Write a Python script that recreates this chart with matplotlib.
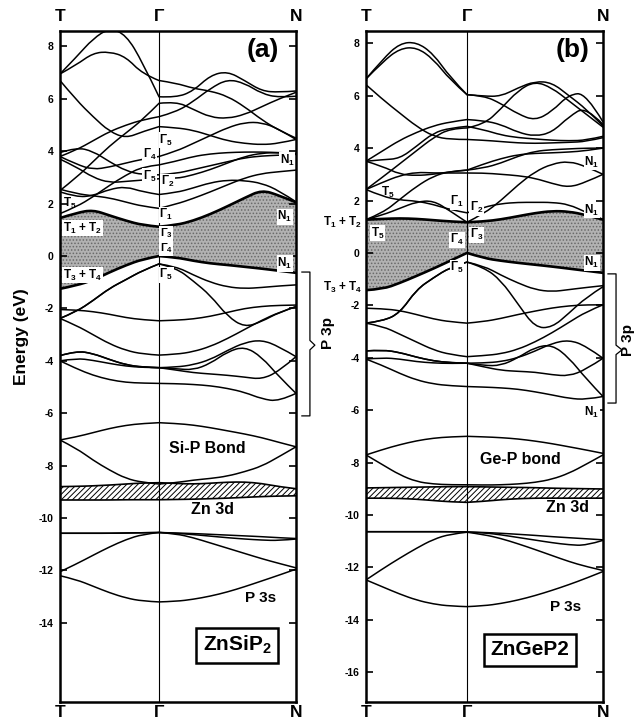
import matplotlib
matplotlib.use("Agg")
import matplotlib.pyplot as plt
from matplotlib.path import Path
from matplotlib.patches import PathPatch
import matplotlib.transforms as mtransforms

plt.rcParams['font.family'] = ['Liberation Sans', 'DejaVu Sans']
plt.rcParams['font.weight'] = 'bold'
plt.rcParams['axes.unicode_minus'] = False
plt.rcParams['mathtext.fontset'] = 'custom'
plt.rcParams['mathtext.rm'] = 'Liberation Sans:bold'
plt.rcParams['mathtext.bf'] = 'Liberation Sans:bold'
plt.rcParams['mathtext.default'] = 'bf'
plt.rcParams['hatch.linewidth'] = 0.7

# sample points: 7 along T-Gamma (fraction), 9 along Gamma-N (fraction), Gamma shared
tg_frac = [0, 1/6, 2/6, 3/6, 4/6, 5/6, 1]
gn_frac = [1/8, 2/8, 3/8, 4/8, 5/8, 6/8, 7/8, 1]

# ---------------- ZnSiP2 (a) ----------------
zns_p3s = [
    [-12.2, -12.35, -12.6, -12.85, -13.05, -13.17, -13.2, -13.18, -13.1, -12.98, -12.82, -12.62, -12.4, -12.18, -11.95],
    [-12.05, -11.75, -11.42, -11.1, -10.82, -10.62, -10.55, -10.6, -10.75, -10.95, -11.15, -11.35, -11.55, -11.73, -11.9],
    [-10.58, -10.58, -10.58, -10.58, -10.57, -10.56, -10.55, -10.57, -10.59, -10.62, -10.65, -10.68, -10.71, -10.75, -10.78],
    [-10.58, -10.58, -10.58, -10.58, -10.57, -10.56, -10.55, -10.58, -10.63, -10.69, -10.75, -10.8, -10.84, -10.86, -10.8],
]
zns_zn3d_top = [-8.8, -8.79, -8.77, -8.74, -8.7, -8.66, -8.65, -8.68, -8.7, -8.67, -8.63, -8.62, -8.68, -8.8, -8.88]
zns_zn3d_bot = [-9.31, -9.31, -9.31, -9.31, -9.3, -9.3, -9.3, -9.29, -9.28, -9.26, -9.24, -9.21, -9.18, -9.16, -9.15]
zns_bond = [
    [-7.02, -6.9, -6.74, -6.58, -6.46, -6.39, -6.36, -6.39, -6.45, -6.55, -6.67, -6.79, -6.93, -7.11, -7.28],
    [-7.02, -7.34, -7.79, -8.17, -8.49, -8.64, -8.7, -8.65, -8.55, -8.49, -8.4, -8.23, -8.02, -7.66, -7.28],
]
zns_vbm = [-1.25, -1.12, -0.92, -0.62, -0.35, -0.12, 0, -0.05, -0.18, -0.28, -0.34, -0.41, -0.48, -0.56, -0.64]
zns_p3p = [
    [-2.38, -2.12, -1.7, -1.23, -0.9, -0.55, -0.3, -0.4, -0.72, -1.0, -1.18, -1.24, -1.2, -1.14, -1.1],
    [-2.38, -2.12, -1.7, -1.23, -0.9, -0.55, -0.3, -0.45, -0.95, -1.5, -2.3, -2.72, -2.5, -2.15, -1.93],
    [-2.04, -2.06, -2.12, -2.22, -2.35, -2.43, -2.47, -2.45, -2.4, -2.3, -2.15, -2.0, -1.92, -1.88, -1.87],
    [-2.38, -2.65, -3.0, -3.35, -3.6, -3.74, -3.78, -3.75, -3.65, -3.45, -3.15, -2.8, -2.45, -2.15, -1.93],
    [-3.8, -3.62, -3.72, -3.95, -4.15, -4.24, -4.26, -4.24, -4.15, -3.95, -3.6, -3.3, -3.2, -3.45, -3.84],
    [-4.0, -3.9, -3.98, -4.1, -4.2, -4.25, -4.26, -4.35, -4.45, -4.5, -4.55, -4.62, -4.7, -4.4, -3.84],
    [-4.0, -4.3, -4.55, -4.72, -4.82, -4.85, -4.86, -4.87, -4.9, -4.95, -5.05, -5.2, -5.45, -5.55, -5.24],
    [-3.8, -3.62, -3.72, -3.95, -4.15, -4.24, -4.26, -4.3, -4.35, -4.1, -3.65, -3.45, -3.85, -4.6, -5.24],
]
zns_cbm = [1.45, 1.65, 1.76, 1.55, 1.35, 1.18, 1.12, 1.18, 1.35, 1.6, 1.9, 2.22, 2.52, 2.32, 2.05]
zns_cond = [
    [1.62, 1.88, 2.26, 2.7, 3.09, 3.41, 3.48, 3.62, 3.8, 3.9, 3.95, 3.97, 3.97, 3.95, 3.92],
    [2.55, 2.38, 2.3, 2.22, 2.06, 1.9, 1.82, 1.98, 2.2, 2.45, 2.72, 2.98, 3.15, 3.22, 3.28],
    [2.45, 2.25, 2.3, 2.55, 2.65, 2.45, 2.35, 2.42, 2.6, 2.8, 2.9, 2.88, 2.78, 2.5, 2.07],
    [3.7, 3.4, 3.0, 2.8, 2.85, 2.9, 2.95, 2.95, 3.1, 3.3, 3.55, 3.8, 3.93, 3.95, 3.9],
    [3.95, 4.15, 4.0, 3.6, 3.25, 3.1, 3.1, 3.15, 3.3, 3.45, 3.6, 3.75, 3.82, 3.85, 3.88],
    [3.8, 3.5, 3.3, 3.4, 3.55, 3.7, 3.8, 4.0, 4.3, 4.6, 4.9, 5.1, 5.1, 4.85, 4.45],
    [2.5, 3.0, 3.6, 4.2, 4.7, 5.2, 5.83, 5.9, 5.6, 5.3, 5.25, 5.4, 5.7, 6.0, 6.25],
    [6.7, 5.95, 5.32, 4.75, 4.5, 4.75, 4.94, 4.9, 4.8, 4.6, 4.4, 4.3, 4.25, 4.3, 4.45],
    [3.8, 4.05, 4.4, 4.75, 5.0, 5.2, 5.32, 5.5, 5.9, 6.4, 6.75, 6.6, 6.2, 6.05, 6.1],
    [6.95, 7.6, 8.3, 8.7, 8.45, 7.4, 6.08, 6.05, 6.3, 6.9, 7.05, 6.7, 6.3, 6.25, 6.3],
    [6.95, 7.3, 7.75, 7.8, 7.6, 6.95, 6.7, 6.6, 6.4, 6.3, 6.1, 5.7, 5.2, 4.8, 4.5],
]

# ---------------- ZnGeP2 (b) ----------------
zng_p3s = [
    [-12.48, -12.75, -13.02, -13.25, -13.4, -13.48, -13.5, -13.47, -13.38, -13.25, -13.08, -12.88, -12.66, -12.42, -12.16],
    [-12.48, -12.05, -11.65, -11.27, -10.93, -10.73, -10.66, -10.75, -10.9, -11.1, -11.32, -11.55, -11.78, -11.97, -12.12],
    [-10.64, -10.64, -10.64, -10.64, -10.64, -10.64, -10.65, -10.67, -10.7, -10.74, -10.78, -10.83, -10.87, -10.91, -10.95],
    [-10.64, -10.64, -10.64, -10.64, -10.64, -10.64, -10.65, -10.68, -10.76, -10.86, -10.96, -11.06, -11.14, -11.17, -10.97],
]
zng_zn3d_top = [-8.97, -8.96, -8.95, -8.94, -8.93, -8.92, -8.92, -8.93, -8.94, -8.95, -8.96, -8.98, -8.99, -9.0, -9.01]
zng_zn3d_bot = [-9.36, -9.36, -9.37, -9.4, -9.45, -9.5, -9.52, -9.48, -9.42, -9.38, -9.36, -9.36, -9.36, -9.36, -9.36]
zng_bond = [
    [-7.71, -7.5, -7.32, -7.17, -7.07, -7.02, -7.0, -7.02, -7.05, -7.1, -7.18, -7.28, -7.4, -7.52, -7.65],
    [-7.71, -8.09, -8.47, -8.73, -8.82, -8.85, -8.85, -8.86, -8.85, -8.82, -8.76, -8.64, -8.41, -8.07, -7.71],
]
zng_vbm = [-1.42, -1.38, -1.15, -0.88, -0.6, -0.3, 0, -0.2, -0.3, -0.38, -0.45, -0.52, -0.6, -0.68, -0.76]
zng_p3p = [
    [-2.68, -2.6, -2.3, -1.4, -0.95, -0.55, -0.35, -0.5, -0.85, -1.15, -1.4, -1.48, -1.4, -1.32, -1.25],
    [-2.68, -2.6, -2.3, -1.4, -0.95, -0.55, -0.35, -0.55, -1.05, -1.95, -2.85, -2.85, -2.3, -1.7, -1.29],
    [-2.11, -2.13, -2.2, -2.35, -2.52, -2.63, -2.68, -2.62, -2.5, -2.35, -2.22, -2.1, -2.02, -1.98, -1.98],
    [-2.68, -2.8, -3.1, -3.4, -3.7, -3.88, -3.96, -3.92, -3.85, -3.68, -3.4, -3.05, -2.65, -2.25, -1.98],
    [-3.74, -3.7, -3.8, -3.98, -4.12, -4.19, -4.21, -4.2, -4.15, -4.0, -3.75, -3.45, -3.32, -3.55, -4.02],
    [-4.05, -4.0, -4.05, -4.15, -4.2, -4.22, -4.21, -4.35, -4.48, -4.52, -4.55, -4.65, -4.7, -4.45, -4.02],
    [-4.05, -4.3, -4.6, -4.85, -5.0, -5.07, -5.1, -5.12, -5.15, -5.2, -5.3, -5.42, -5.55, -5.6, -5.48],
    [-3.74, -3.7, -3.8, -3.98, -4.12, -4.19, -4.21, -4.3, -4.3, -4.0, -3.6, -3.5, -4.0, -4.8, -5.48],
]
zng_cbm = [1.27, 1.3, 1.32, 1.3, 1.25, 1.2, 1.17, 1.2, 1.28, 1.4, 1.52, 1.6, 1.58, 1.45, 1.27]
zng_cond = [
    [1.27, 1.53, 2.04, 2.54, 2.93, 3.12, 3.16, 3.24, 3.43, 3.69, 3.88, 3.94, 3.97, 4.0, 4.0],
    [2.42, 2.15, 2.02, 1.98, 1.85, 1.65, 1.53, 1.75, 1.88, 1.93, 1.93, 1.93, 1.85, 1.55, 1.27],
    [1.27, 1.45, 1.7, 1.95, 2.0, 1.6, 1.17, 1.5, 2.0, 2.6, 3.1, 3.4, 3.5, 3.3, 3.0],
    [2.42, 2.7, 2.95, 3.08, 3.05, 3.05, 3.05, 3.05, 3.0, 2.95, 2.85, 2.65, 2.5, 2.7, 3.0],
    [3.5, 3.56, 3.6, 4.07, 4.58, 4.77, 4.83, 4.7, 4.5, 4.4, 4.35, 4.3, 4.28, 4.3, 4.45],
    [3.5, 3.3, 3.0, 2.95, 3.0, 3.1, 3.16, 3.4, 3.6, 3.75, 3.8, 3.82, 3.85, 3.9, 4.0],
    [6.42, 5.85, 5.34, 4.83, 4.45, 4.33, 4.33, 4.3, 4.25, 4.2, 4.18, 4.2, 4.22, 4.25, 4.4],
    [2.42, 2.9, 3.4, 3.9, 4.4, 4.75, 4.77, 4.9, 5.5, 6.2, 6.55, 6.3, 5.8, 5.3, 4.8],
    [3.5, 3.9, 4.3, 4.6, 4.85, 5.0, 5.09, 5.05, 4.9, 4.6, 4.45, 4.6, 5.2, 5.6, 4.9],
    [6.64, 7.4, 8.0, 8.05, 7.6, 6.7, 6.04, 6.0, 5.7, 5.3, 5.05, 5.4, 6.05, 6.1, 5.0],
    [6.64, 7.3, 7.8, 7.85, 7.4, 6.6, 6.04, 5.98, 5.98, 6.3, 6.55, 6.5, 6.0, 5.5, 4.85],
]


def band_path(ks, es):
    pts = list(zip(ks, es))
    verts = [pts[0]]
    codes = [Path.MOVETO]
    for seg in (pts[0:7], pts[6:15]):
        n = len(seg)
        for i in range(1, n - 1):
            if i == n - 2:
                end = seg[n - 1]
            else:
                end = ((seg[i][0] + seg[i + 1][0]) / 2, (seg[i][1] + seg[i + 1][1]) / 2)
            verts += [seg[i], end]
            codes += [Path.CURVE3, Path.CURVE3]
    return verts, codes


def fill_between_bands(ax, ks, upper, lower, **kw):
    vu, cu = band_path(ks, upper)
    vl, cl = band_path(ks, lower)
    verts = vu + vl[::-1] + [vu[0]]
    codes = cu + [Path.LINETO] + [Path.CURVE3] * (len(vl) - 1) + [Path.CLOSEPOLY]
    ax.add_patch(PathPatch(Path(verts, codes), **kw))


def draw_band(ax, ks, es, lw=1.1):
    v, c = band_path(ks, es)
    ax.add_patch(PathPatch(Path(v, c), facecolor='none', edgecolor='black', lw=lw, capstyle='round'))


def panel(ax, kg, ylim, p3s, zt, zb, bond, vbm, p3p, cbm, cond, ticks):
    ks = [kg * f for f in tg_frac] + [kg + (1 - kg) * f for f in gn_frac]
    fill_between_bands(ax, ks, cbm, vbm, facecolor='#b2b2b2', edgecolor='#6a6a6a', lw=0, hatch='.....')
    fill_between_bands(ax, ks, zt, zb, facecolor='white', edgecolor='black', lw=0, hatch='//////')
    for b in p3s + bond + p3p + cond:
        draw_band(ax, ks, b)
    for b in (zt, zb):
        draw_band(ax, ks, b, lw=1.2)
    draw_band(ax, ks, vbm, lw=1.9)
    draw_band(ax, ks, cbm, lw=1.9)
    ax.axvline(kg, color='black', lw=0.8)
    ax.set_xlim(0, 1)
    ax.set_ylim(*ylim)
    ax.set_xticks([])
    ax.set_yticks(ticks)
    ax.set_yticklabels([str(t) for t in ticks], fontsize=7.5, fontweight='bold')
    ax.tick_params(axis='y', direction='in', length=5, width=1.2, right=True, pad=4.5)
    for s in ax.spines.values():
        s.set_linewidth(1.8)
    tr = mtransforms.blended_transform_factory(ax.transData, ax.transAxes)
    for x, lab in zip([0, kg, 1], ['T', 'Γ', 'N']):
        ax.text(x, 1.022, lab, transform=tr, ha='center', va='center', fontsize=12.5, fontweight='bold')
        ax.text(x, -0.016, lab, transform=tr, ha='center', va='center', fontsize=12.5, fontweight='bold')


def lab(ax, x, y, s, size=8.5, white=False, **kw):
    bb = dict(facecolor='white', edgecolor='none', pad=0.5) if white else None
    ax.text(x, y, s, ha='center', va='center', fontsize=size, fontweight='bold', bbox=bb, **kw)


def bracket(ax, x0, x1, xt, ytop, ybot, ymid, text_x, text_y):
    tr = mtransforms.blended_transform_factory(ax.transAxes, ax.transData)
    xs = [x0, x1, x1, xt, x1, x1, x0]
    ys = [ytop, ytop, ymid + 0.18, ymid, ymid - 0.18, ybot, ybot]
    ax.plot(xs, ys, color='black', lw=0.9, transform=tr, clip_on=False)
    ax.text(text_x, text_y, 'P 3p', transform=tr, rotation=90, ha='center', va='center',
            fontsize=11, fontweight='bold')


fig = plt.figure(figsize=(6.39, 7.19), dpi=100)
ax_a = fig.add_axes([60 / 639, 1 - 702 / 719, 236 / 639, 671 / 719])
ax_b = fig.add_axes([366 / 639, 1 - 702 / 719, 237 / 639, 671 / 719])

kga = 99 / 236
kgb = 101 / 237
panel(ax_a, kga, (-17.02, 8.59), zns_p3s, zns_zn3d_top, zns_zn3d_bot, zns_bond, zns_vbm, zns_p3p,
      zns_cbm, zns_cond, list(range(8, -15, -2)))
panel(ax_b, kgb, (-17.14, 8.47), zng_p3s, zng_zn3d_top, zng_zn3d_bot, zng_bond, zng_vbm, zng_p3p,
      zng_cbm, zng_cond, list(range(8, -17, -2)))

# panel (a) annotations
lab(ax_a, 0.86, 7.86, '(a)', size=19)
lab(ax_a, 0.04, 2.0, 'T$_5$')
lab(ax_a, 0.095, 1.07, 'T$_1$ + T$_2$', white=True)
lab(ax_a, 0.095, -0.73, 'T$_3$ + T$_4$', white=True)
lab(ax_a, 0.45, 4.43, 'Γ$_5$', white=True)
lab(ax_a, 0.38, 3.88, 'Γ$_4$', white=True)
lab(ax_a, 0.38, 3.03, 'Γ$_5$', white=True)
lab(ax_a, 0.457, 2.83, 'Γ$_2$', white=True)
lab(ax_a, 0.45, 1.57, 'Γ$_1$', white=True)
lab(ax_a, 0.45, 0.86, 'Γ$_3$', size=8, white=True)
lab(ax_a, 0.45, 0.3, 'Γ$_4$', size=8, white=True)
lab(ax_a, 0.45, -0.72, 'Γ$_5$', white=True)
lab(ax_a, 0.962, 3.66, 'N$_1$', white=True)
lab(ax_a, 0.953, 1.5, 'N$_1$', white=True)
lab(ax_a, 0.953, -0.28, 'N$_1$', white=True)
lab(ax_a, 0.623, -7.33, 'Si-P Bond', size=11.5)
lab(ax_a, 0.648, -9.66, 'Zn 3d', size=11.5)
lab(ax_a, 0.85, -13.05, 'P 3s', size=11)
ax_a.text(0.75, -14.85, 'ZnSiP$_2$', ha='center', va='center', fontsize=15, fontweight='bold',
          bbox=dict(facecolor='white', edgecolor='black', lw=1.8, pad=4.5))
bracket(ax_a, 1.025, 1.059, 1.08, -0.61, -6.1, -3.4, 1.136, -2.94)

# panel (b) annotations
lab(ax_b, 0.87, 7.75, '(b)', size=19)
lab(ax_b, 0.093, 2.3, 'T$_5$')
lab(ax_b, 0.05, 0.76, 'T$_5$', white=True)
lab(ax_b, 0.384, 1.95, 'Γ$_1$', white=True)
lab(ax_b, 0.468, 1.72, 'Γ$_2$', white=True)
lab(ax_b, 0.468, 0.69, 'Γ$_3$', white=True)
lab(ax_b, 0.384, 0.5, 'Γ$_4$', white=True)
lab(ax_b, 0.384, -0.57, 'Γ$_5$', white=True)
lab(ax_b, 0.953, 3.47, 'N$_1$', white=True)
lab(ax_b, 0.953, 1.64, 'N$_1$', white=True)
lab(ax_b, 0.953, -0.38, 'N$_1$', white=True)
lab(ax_b, 0.953, -6.07, 'N$_1$', white=True)
lab(ax_b, 0.65, -7.9, 'Ge-P bond', size=11.5)
lab(ax_b, 0.852, -9.73, 'Zn 3d', size=11.5)
lab(ax_b, 0.84, -13.5, 'P 3s', size=11)
ax_b.text(0.692, -15.15, 'ZnGeP2', ha='center', va='center', fontsize=15, fontweight='bold',
          bbox=dict(facecolor='white', edgecolor='black', lw=1.8, pad=4.5))
ax_b.text(-0.017, 1.18, 'T$_1$ + T$_2$', ha='right', va='center', fontsize=8.5, fontweight='bold',
          transform=mtransforms.blended_transform_factory(ax_b.transAxes, ax_b.transData))
ax_b.text(-0.013, -1.3, 'T$_3$ + T$_4$', ha='right', va='center', fontsize=8.5, fontweight='bold',
          transform=mtransforms.blended_transform_factory(ax_b.transAxes, ax_b.transData))
bracket(ax_b, 1.021, 1.055, 1.08, -0.8, -5.73, -3.7, 1.105, -3.32)

fig.text(22 / 639, 1 - 337 / 719, 'Energy (eV)', rotation=90, ha='center', va='center',
         fontsize=12.5, fontweight='bold')

fig.savefig('out.png', dpi=100)
